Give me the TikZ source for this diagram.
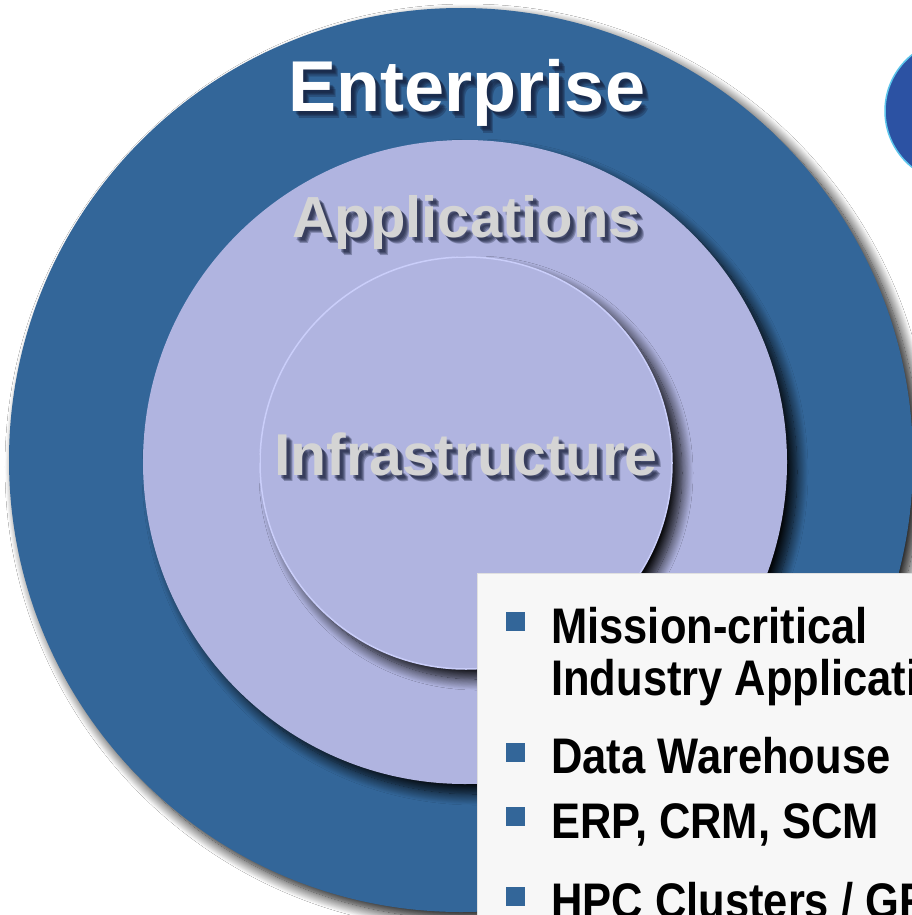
\documentclass[tikz,border=0pt]{standalone}
\usepackage{fontspec}
\setmainfont{Liberation Sans}
\newfontfamily\narrowfont[FakeStretch=0.87]{Liberation Sans}
\usetikzlibrary{shadows.blur}
\definecolor{ringblue}{HTML}{336699}
\definecolor{lavender}{HTML}{B0B4E0}
\definecolor{rimlight}{HTML}{CACEFA}
\definecolor{titlegray}{HTML}{D4D4D4}
\definecolor{titleshade}{HTML}{141C36}
\definecolor{boxgray}{HTML}{F7F7F7}
\definecolor{logoblue}{HTML}{2C52A3}
\definecolor{logorim}{HTML}{5CC6EC}

\begin{document}
\begin{tikzpicture}[x=1pt,y=-1pt,
    ring/.style={circle,inner sep=0pt,outer sep=0pt,minimum size=#1},
    ringshadow/.style={blur shadow={shadow xshift=#1,shadow yshift=-#1,
        shadow blur radius=11pt,shadow blur steps=16,shadow opacity=95}},
    title/.style={anchor=base,inner sep=0pt,font=\fontsize{#1}{#1}\selectfont\bfseries},
    titleshadow/.style={title=#1,text=titleshade,opacity=.3},
    bullet/.style={fill=ringblue,inner sep=0pt,minimum size=19pt},
    item/.style={anchor=base west,inner sep=0pt,
        font=\narrowfont\fontsize{50}{50}\selectfont\bfseries}]
  \useasboundingbox (0,0) rectangle (912,915);
  \clip (0,0) rectangle (912,915);
  \fill[white] (0,0) rectangle (912,915);

  % rings
  \node[ring=904pt,fill=ringblue,ringshadow=7pt] (enterprise) at (461,460) {};
  \node[ring=644pt,fill=lavender,ringshadow=10pt] (applications) at (465,462) {};
  \node[ring=412pt,fill=lavender,draw=rimlight,line width=1.5pt,ringshadow=10pt] (infrastructure) at (466,463) {};

  % titles
  \foreach \d in {3,4,5,6}{
    \node[titleshadow=72] (ent-sh-\d) at (467+\d,112+\d) {Enterprise};
    \node[titleshadow=58] (app-sh-\d) at (467+\d,237+\d) {Applications};
    \node[titleshadow=59] (inf-sh-\d) at (466+\d,475+\d) {Infrastructure};
  }
  \node[title=72,text=white] (ent-title) at (467,112) {Enterprise};
  \node[title=58,text=titlegray] (app-title) at (467,237) {Applications};
  \node[title=59,text=titlegray] (inf-title) at (466,475) {Infrastructure};

  \node[ring=144pt,fill=logoblue,draw=logorim,line width=1.5pt] (logo) at (957,111) {};

  % list box
  \node[fill=boxgray,draw=black!12,line width=.8pt,inner sep=0pt,
        minimum width=480pt,minimum height=380pt,anchor=north west] (listbox) at (477,573) {};
  \node[bullet] (b1) at (515.5,621.5) {};
  \node[bullet] (b2) at (515.5,752.5) {};
  \node[bullet] (b3) at (515.5,816.5) {};
  \node[bullet] (b4) at (515.5,896.5) {};
  \node[item] (mission) at (551,643) {Mission-critical};
  \node[item] (industry) at (551,695) {Industry Applications};
  \node[item] (warehouse) at (551,773) {Data Warehouse};
  \node[item] (erp) at (551,838) {ERP, CRM, SCM};
  \node[item] (hpc) at (551,918) {HPC Clusters / GRID};
\end{tikzpicture}
\end{document}
